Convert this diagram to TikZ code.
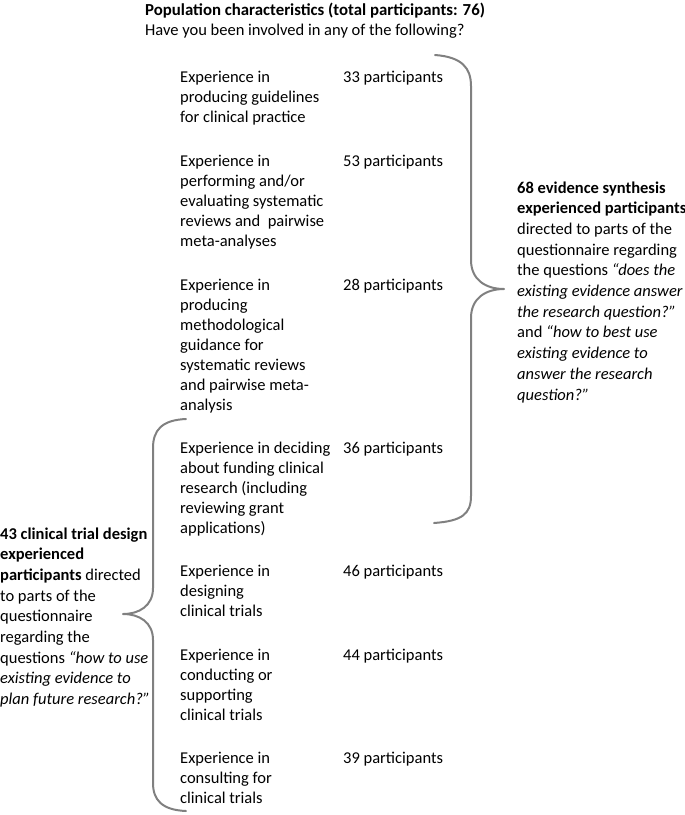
\documentclass[tikz,border=0pt]{standalone}
\usepackage{fontspec}
\setmainfont{Carlito}
\begin{document}
\begin{tikzpicture}[x=1pt,y=-1pt,
  txt/.style={anchor=base west, align=left, inner sep=0pt, font=\fontsize{16.5}{20}\selectfont},
  side/.style={anchor=base west, align=left, inner sep=0pt, font=\fontsize{16.5}{20.7}\selectfont},
  bracepath/.style={draw=black!50, line width=2pt, line cap=round, line join=round}]
\useasboundingbox (0,0) rectangle (685,815);
% title (anchors at baseline of last line)
\node[txt] (title) at (145,35) {{\fontsize{16.8}{20}\selectfont\textbf{Population characteristics (total participants: 76)}}\\Have you been involved in any of the following?};
% items
\node[txt] (e1) at (180,122) {Experience in\\producing guidelines\\for clinical practice};
\node[txt] (n1) at (343,82) {33 participants};
\node[txt] (e2) at (180,246) {Experience in\\performing and/or\\evaluating systematic\\reviews and~ pairwise\\meta-analyses};
\node[txt] (n2) at (343,166) {53 participants};
\node[txt] (e3) at (180,410) {Experience in\\producing\\methodological\\guidance for\\systematic reviews\\and pairwise meta-\\analysis};
\node[txt] (n3) at (343,290) {28 participants};
\node[txt] (e4) at (180,533) {Experience in deciding\\about funding clinical\\research (including\\reviewing grant\\applications)};
\node[txt] (n4) at (343,453) {36 participants};
\node[txt] (e5) at (180,616) {Experience in\\designing\\clinical trials};
\node[txt] (n5) at (343,576) {46 participants};
\node[txt] (e6) at (180,720) {Experience in\\conducting or\\supporting\\clinical trials};
\node[txt] (n6) at (343,660) {44 participants};
\node[txt] (e7) at (180,803) {Experience in\\consulting for\\clinical trials};
\node[txt] (n7) at (343,763) {39 participants};
% right side text
\node[side] (rs) at (517,400) {\textbf{68 evidence synthesis}\\\textbf{experienced participants}\\directed to parts of the\\questionnaire regarding\\the questions \textit{“does the}\\\textit{existing evidence answer}\\\textit{the research question?”}\\and \textit{“how to best use}\\\textit{existing evidence to}\\\textit{answer the research}\\\textit{question?”}};
% left side text
\node[side] (ls) at (0,704.6) {\textbf{43 clinical trial design}\\\textbf{experienced}\\\textbf{participants} directed\\to parts of the\\questionnaire\\regarding the\\questions \textit{“how to use}\\\textit{existing evidence to}\\\textit{plan future research?”}};
% right brace
\coordinate (rt) at (435,55);
\coordinate (rtip) at (504,289);
\coordinate (rb) at (434,523);
\draw[bracepath] (rt) .. controls (462,57) and (471,68) .. (471,86) -- (471,260)
  .. controls (471,280) and (486,289) .. (rtip)
  .. controls (486,289) and (471,298) .. (471,318) -- (471,496)
  .. controls (471,514) and (462,521) .. (rb);
% left brace
\coordinate (lt) at (186,419);
\coordinate (ltip) at (123,614);
\coordinate (lb) at (186,811);
\draw[bracepath] (lt) .. controls (162,420) and (153,430) .. (153,448) -- (153,588)
  .. controls (153,606) and (139,614) .. (ltip)
  .. controls (139,614) and (153,622) .. (153,640) -- (153,783)
  .. controls (153,800) and (162,810) .. (lb);
\end{tikzpicture}
\end{document}
